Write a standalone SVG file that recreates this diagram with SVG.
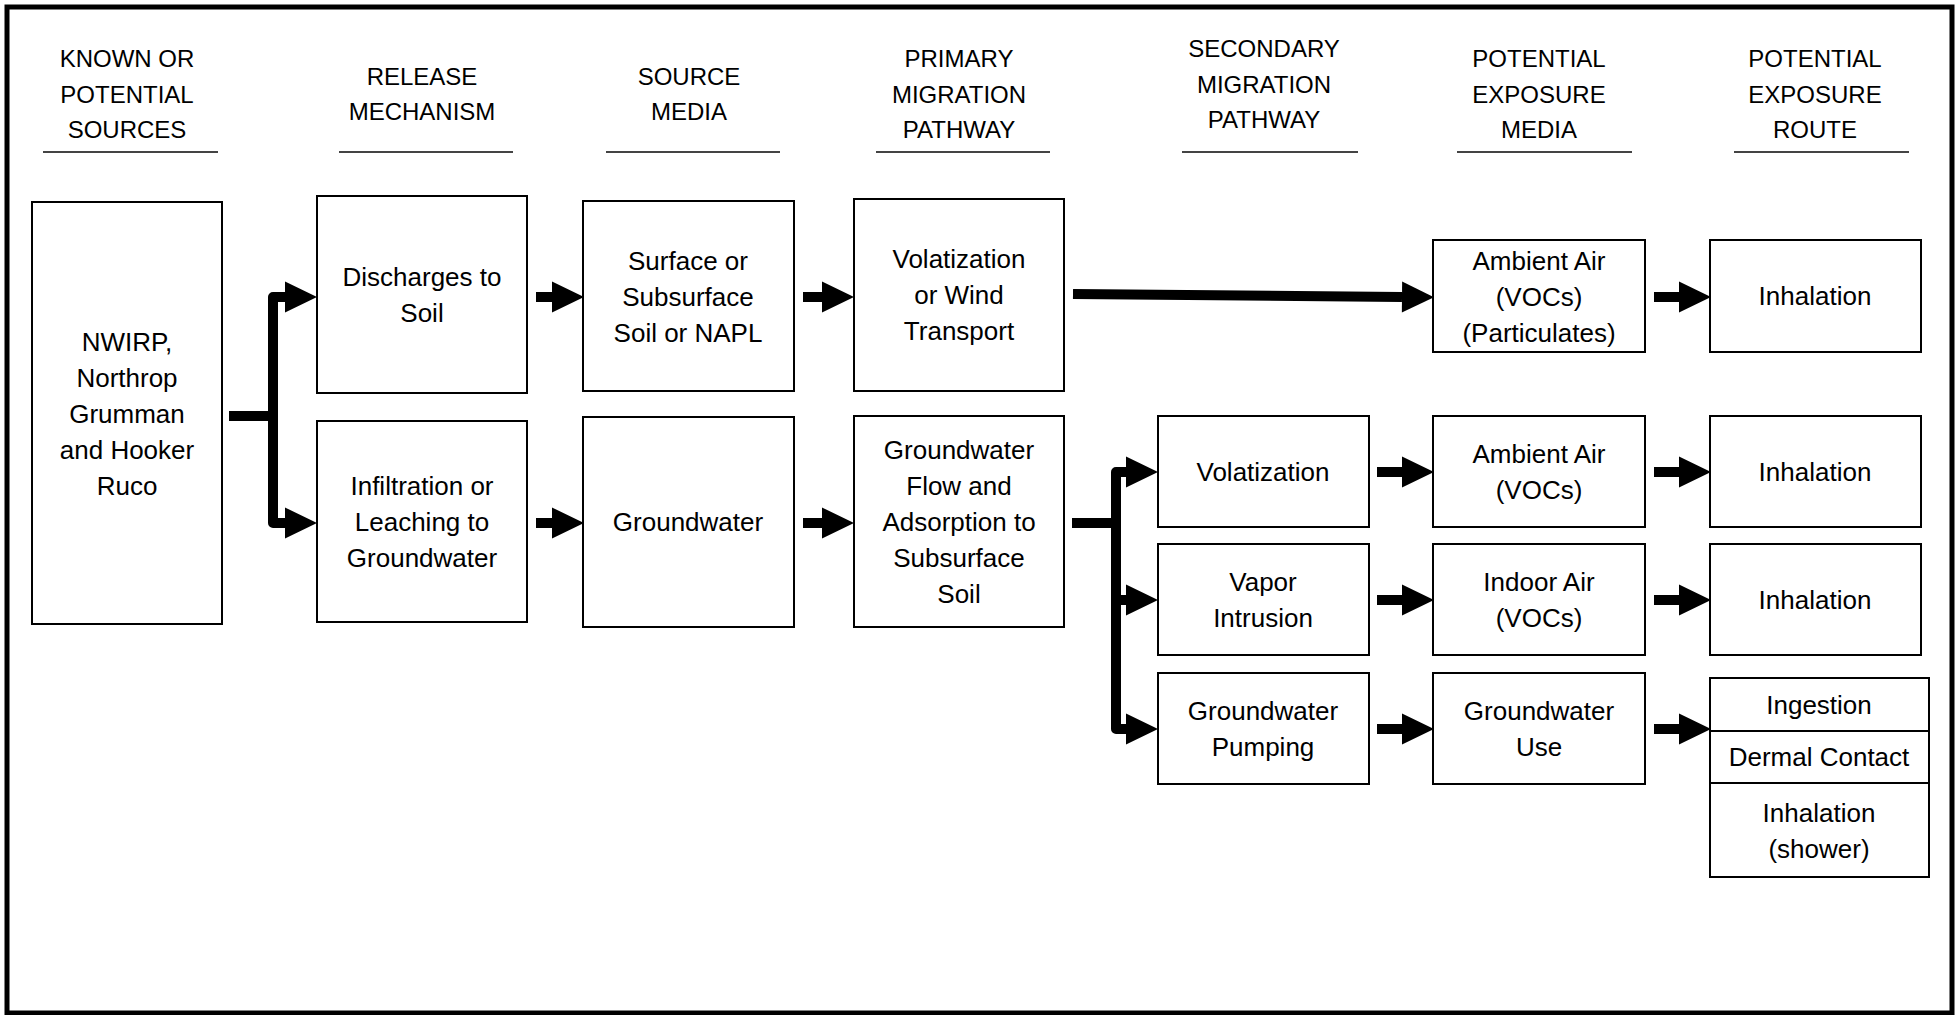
<svg xmlns="http://www.w3.org/2000/svg" width="1957" height="1015" viewBox="0 0 1957 1015">
<style>
.frame{fill:#fff;stroke:#000;stroke-width:5}
.box{fill:#fff;stroke:#000;stroke-width:2}
.hl{stroke:#444;stroke-width:2}
.hd{font-family:"Liberation Sans",Arial,sans-serif;font-size:24px;fill:#000;text-anchor:middle}
.t{font-family:"Liberation Sans",Arial,sans-serif;font-size:26px;fill:#000;text-anchor:middle}
.c{fill:none;stroke:#000;stroke-width:10;stroke-linejoin:round;stroke-linecap:butt;marker-end:url(#ah)}
.cn{fill:none;stroke:#000;stroke-width:10;stroke-linejoin:round;stroke-linecap:butt}
</style>
<defs>
<marker id="ah" markerUnits="userSpaceOnUse" markerWidth="33" markerHeight="32" refX="0" refY="15.5" orient="auto" viewBox="0 0 33 32" overflow="visible">
<path d="M0,0 L32,15.5 L0,31 Z" fill="#000"/>
</marker>
</defs>
<rect class="frame" x="7" y="7" width="1945" height="1006"/>

<g id="headers">
<text class="hd" x="127" y="67">KNOWN OR</text>
<text class="hd" x="127" y="103">POTENTIAL</text>
<text class="hd" x="127" y="138">SOURCES</text>
<line class="hl" x1="43" y1="152" x2="218" y2="152"/>
<text class="hd" x="422" y="85">RELEASE</text>
<text class="hd" x="422" y="120">MECHANISM</text>
<line class="hl" x1="339" y1="152" x2="513" y2="152"/>
<text class="hd" x="689" y="85">SOURCE</text>
<text class="hd" x="689" y="120">MEDIA</text>
<line class="hl" x1="606" y1="152" x2="780" y2="152"/>
<text class="hd" x="959" y="67">PRIMARY</text>
<text class="hd" x="959" y="103">MIGRATION</text>
<text class="hd" x="959" y="138">PATHWAY</text>
<line class="hl" x1="876" y1="152" x2="1050" y2="152"/>
<text class="hd" x="1264" y="57">SECONDARY</text>
<text class="hd" x="1264" y="93">MIGRATION</text>
<text class="hd" x="1264" y="128">PATHWAY</text>
<line class="hl" x1="1182" y1="152" x2="1358" y2="152"/>
<text class="hd" x="1539" y="67">POTENTIAL</text>
<text class="hd" x="1539" y="103">EXPOSURE</text>
<text class="hd" x="1539" y="138">MEDIA</text>
<line class="hl" x1="1457" y1="152" x2="1632" y2="152"/>
<text class="hd" x="1815" y="67">POTENTIAL</text>
<text class="hd" x="1815" y="103">EXPOSURE</text>
<text class="hd" x="1815" y="138">ROUTE</text>
<line class="hl" x1="1734" y1="152" x2="1909" y2="152"/>
</g>

<g id="connectors">
<path class="cn" d="M229,416 H273"/>
<path class="c" d="M273,416 V297 H285"/>
<path class="c" d="M273,416 V523 H285"/>
<path class="c" d="M536,297 H552"/>
<path class="c" d="M536,523 H552"/>
<path class="c" d="M803,297 H822"/>
<path class="c" d="M803,523 H822"/>
<path class="c" d="M1073,294 L1402,297"/>
<path class="cn" d="M1072,523 H1116"/>
<path class="c" d="M1116,523 V472 H1126"/>
<path class="c" d="M1116,523 V729 H1126"/>
<path class="c" d="M1111,600 H1126"/>
<path class="c" d="M1377,472 H1402"/>
<path class="c" d="M1377,600 H1402"/>
<path class="c" d="M1377,729 H1402"/>
<path class="c" d="M1654,297 H1679"/>
<path class="c" d="M1654,472 H1679"/>
<path class="c" d="M1654,600 H1679"/>
<path class="c" d="M1654,729 H1679"/>
</g>

<g id="n-sources">
<rect class="box" x="32" y="202" width="190" height="422"/>
<text class="t" x="127" y="351">NWIRP,</text>
<text class="t" x="127" y="387">Northrop</text>
<text class="t" x="127" y="423">Grumman</text>
<text class="t" x="127" y="459">and Hooker</text>
<text class="t" x="127" y="495">Ruco</text>
</g>
<g id="n-discharges">
<rect class="box" x="317" y="196" width="210" height="197"/>
<text class="t" x="422" y="286">Discharges to</text>
<text class="t" x="422" y="322">Soil</text>
</g>
<g id="n-infiltration">
<rect class="box" x="317" y="421" width="210" height="201"/>
<text class="t" x="422" y="495">Infiltration or</text>
<text class="t" x="422" y="531">Leaching to</text>
<text class="t" x="422" y="567">Groundwater</text>
</g>
<g id="n-surface">
<rect class="box" x="583" y="201" width="211" height="190"/>
<text class="t" x="688" y="270">Surface or</text>
<text class="t" x="688" y="306">Subsurface</text>
<text class="t" x="688" y="342">Soil or NAPL</text>
</g>
<g id="n-groundwater">
<rect class="box" x="583" y="417" width="211" height="210"/>
<text class="t" x="688" y="531">Groundwater</text>
</g>
<g id="n-volwind">
<rect class="box" x="854" y="199" width="210" height="192"/>
<text class="t" x="959" y="268">Volatization</text>
<text class="t" x="959" y="304">or Wind</text>
<text class="t" x="959" y="340">Transport</text>
</g>
<g id="n-gwflow">
<rect class="box" x="854" y="416" width="210" height="211"/>
<text class="t" x="959" y="459">Groundwater</text>
<text class="t" x="959" y="495">Flow and</text>
<text class="t" x="959" y="531">Adsorption to</text>
<text class="t" x="959" y="567">Subsurface</text>
<text class="t" x="959" y="603">Soil</text>
</g>
<g id="n-volatization">
<rect class="box" x="1158" y="416" width="211" height="111"/>
<text class="t" x="1263" y="481">Volatization</text>
</g>
<g id="n-vapor">
<rect class="box" x="1158" y="544" width="211" height="111"/>
<text class="t" x="1263" y="591">Vapor</text>
<text class="t" x="1263" y="627">Intrusion</text>
</g>
<g id="n-pumping">
<rect class="box" x="1158" y="673" width="211" height="111"/>
<text class="t" x="1263" y="720">Groundwater</text>
<text class="t" x="1263" y="756">Pumping</text>
</g>
<g id="n-ambient1">
<rect class="box" x="1433" y="240" width="212" height="112"/>
<text class="t" x="1539" y="270">Ambient Air</text>
<text class="t" x="1539" y="306">(VOCs)</text>
<text class="t" x="1539" y="342">(Particulates)</text>
</g>
<g id="n-ambient2">
<rect class="box" x="1433" y="416" width="212" height="111"/>
<text class="t" x="1539" y="463">Ambient Air</text>
<text class="t" x="1539" y="499">(VOCs)</text>
</g>
<g id="n-indoor">
<rect class="box" x="1433" y="544" width="212" height="111"/>
<text class="t" x="1539" y="591">Indoor Air</text>
<text class="t" x="1539" y="627">(VOCs)</text>
</g>
<g id="n-gwuse">
<rect class="box" x="1433" y="673" width="212" height="111"/>
<text class="t" x="1539" y="720">Groundwater</text>
<text class="t" x="1539" y="756">Use</text>
</g>
<g id="n-inhal1">
<rect class="box" x="1710" y="240" width="211" height="112"/>
<text class="t" x="1815" y="305">Inhalation</text>
</g>
<g id="n-inhal2">
<rect class="box" x="1710" y="416" width="211" height="111"/>
<text class="t" x="1815" y="481">Inhalation</text>
</g>
<g id="n-inhal3">
<rect class="box" x="1710" y="544" width="211" height="111"/>
<text class="t" x="1815" y="609">Inhalation</text>
</g>
<g id="n-routes">
<rect class="box" x="1710" y="678" width="219" height="53"/>
<text class="t" x="1819" y="714">Ingestion</text>
<rect class="box" x="1710" y="731" width="219" height="52"/>
<text class="t" x="1819" y="766">Dermal Contact</text>
<rect class="box" x="1710" y="783" width="219" height="94"/>
<text class="t" x="1819" y="822">Inhalation</text>
<text class="t" x="1819" y="858">(shower)</text>
</g>
</svg>
